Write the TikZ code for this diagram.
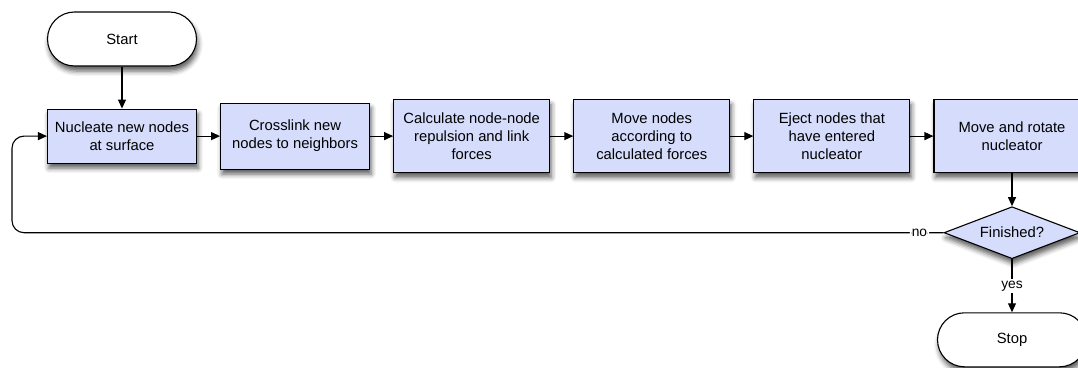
\documentclass[tikz,border=0pt]{standalone}
\usepackage{fontspec}
\setmainfont{Liberation Sans}
\usepackage{tikz}
\usetikzlibrary{arrows.meta,positioning,shapes.geometric,shadows.blur}
\definecolor{boxfill}{RGB}{214,221,252}

\begin{document}
\begin{tikzpicture}[x=1pt, y=-1pt, node distance=42pt and 23pt,
  every node/.style={font=\fontsize{14.8}{18}\selectfont},
  shade/.style={blur shadow={shadow xshift=1.5pt, shadow yshift=-5pt, shadow blur radius=5pt, shadow opacity=65}},
  box/.style={draw, line width=1.1pt, fill=boxfill, align=center, minimum width=149pt, inner sep=3pt, shade},
  wide/.style={box, minimum width=156pt, minimum height=73pt},
  term/.style={draw, line width=1.1pt, fill=white, rounded corners=27pt, minimum width=149pt, minimum height=54pt, shade},
  decision/.style={draw, line width=1.1pt, fill=boxfill, diamond, aspect=2.6, inner sep=0pt, minimum width=136pt, minimum height=52pt, shade},
  lbl/.style={fill=white, inner sep=2pt, font=\fontsize{13.8}{16}\selectfont},
  arr/.style={-{Triangle[length=9pt, width=8pt]}, line width=1.1pt}]
\useasboundingbox (0,0) rectangle (1078,367);
% main loop, left to right
\node[term] (start) at (122,39) {Start};
\node[box, below=of start, minimum height=54pt] (nuc) {Nucleate new nodes\\at surface};
\node[box, right=of nuc, minimum height=66pt] (link) {Crosslink new\\nodes to neighbors};
\node[wide, right=of link] (force) {Calculate node-node\\repulsion and link\\forces};
\node[wide, right=of force] (move) {Move nodes\\according to\\calculated forces};
\node[wide, right=of move] (eject) {Eject nodes that\\have entered\\nucleator};
\node[wide, right=of eject] (rot) {Move and rotate\\nucleator};
\node[decision, below=33pt of rot] (fin) {Finished?};
\node[term, below=53pt of fin] (stop) {Stop};
\draw[arr] (start) -- (nuc);
\draw[arr] (nuc) -- (link);
\draw[arr] (link) -- (force);
\draw[arr] (force) -- (move);
\draw[arr] (move) -- (eject);
\draw[arr] (eject) -- (rot);
\draw[arr] (rot) -- (fin);
\draw[arr] (fin) -- node[lbl] {yes} (stop);
\draw[arr, rounded corners=12pt] (fin.west) -- ++(-24,0) node[lbl] {no} -| (12,200) |- (nuc.west);
\end{tikzpicture}
\end{document}
